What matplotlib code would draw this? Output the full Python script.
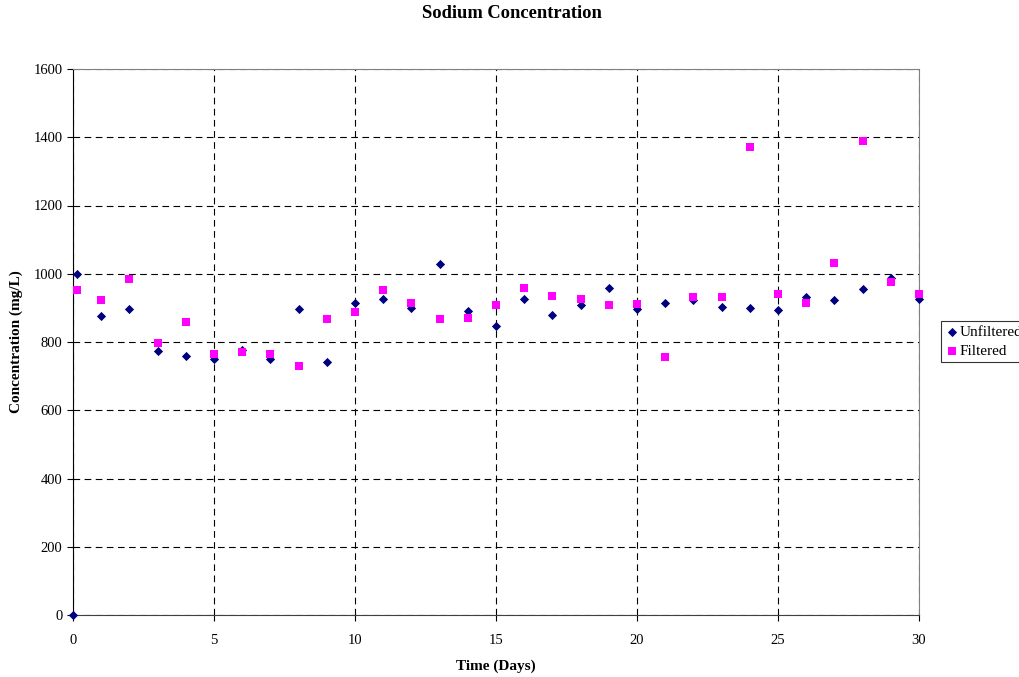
import matplotlib
matplotlib.use("Agg")
import matplotlib.pyplot as plt

# Data
unf_days = [0, 0.15, 1, 2, 3, 4, 5, 6, 7, 8, 9, 10, 11, 12, 13, 14, 15, 16, 17, 18, 19,
            20, 21, 22, 23, 24, 25, 26, 27, 28, 29, 30]
unf_vals = [0, 998, 877, 898, 775, 760, 751, 777, 751, 898, 740, 915, 925, 901, 1029, 891,
            847, 925, 879, 908, 959, 896, 915, 923, 903, 900, 894, 932, 923, 955, 987, 927]

filt_days = [0.15, 1, 2, 3, 4, 5, 6, 7, 8, 9, 10, 11, 12, 13, 14, 15, 16, 17, 18, 19,
             20, 21, 22, 23, 24, 25, 26, 27, 28, 29, 30]
filt_vals = [952, 923, 985, 797, 858, 766, 772, 766, 729, 868, 888, 952, 915, 867, 870,
             909, 959, 934, 927, 909, 911, 756, 932, 932, 1371, 942, 915, 1031, 1390, 976, 942]

x_ticks = [0, 5, 10, 15, 20, 25, 30]
y_ticks = [0, 200, 400, 600, 800, 1000, 1200, 1400, 1600]

plt.rcParams['font.family'] = ['Liberation Serif', 'DejaVu Serif']

W, H = 1020, 677
fig = plt.figure(figsize=(W / 100, H / 100), dpi=100)
ax = fig.add_axes([73 / W, 1 - 615 / H, (919 - 73) / W, (615 - 69) / H])

ax.scatter(unf_days, unf_vals, marker='D', s=22, color='#000080', label='Unfiltered',
           zorder=3, clip_on=False, linewidths=0)
ax.scatter(filt_days, filt_vals, marker='s', s=38, color='#FF00FF', label='Filtered',
           zorder=3, clip_on=False, linewidths=0)

ax.set_xlim(0, 30)
ax.set_ylim(0, 1600)
ax.set_xticks(x_ticks)
ax.set_yticks(y_ticks)
ax.grid(True, color='black', linestyle=(0, (6, 4)), linewidth=0.8)
ax.set_axisbelow(True)

ax.tick_params(direction='out', length=4, width=0.8, labelsize=10.5, colors='black')
ax.tick_params(axis='x', pad=10)
ax.spines['left'].set_color('black')
ax.spines['bottom'].set_color('#404040')
ax.spines['right'].set_color('#808080')
ax.spines['top'].set_color('#808080')

fig.text(512 / W, 1 - 14 / H, 'Sodium Concentration', fontsize=13.3, fontweight='bold',
         ha='center', va='center')
ax.set_xlabel('Time (Days)', fontsize=11, fontweight='bold')
ax.set_ylabel('Concentration (mg/L)', fontsize=11, fontweight='bold')
ax.xaxis.set_label_coords((496 - 73) / 846, -(660 - 615) / 546)
ax.yaxis.set_label_coords(-(73 - 23) / 846, 0.5)

leg = fig.legend(loc='upper left', bbox_to_anchor=(941 / W, 1 - 321 / H), fontsize=11,
                 frameon=True, fancybox=False, edgecolor='black', handletextpad=0.1,
                 handlelength=0.8, borderaxespad=0, borderpad=0.3, labelspacing=0.3)
leg.get_frame().set_linewidth(0.8)

fig.savefig('out.png', dpi=100)
